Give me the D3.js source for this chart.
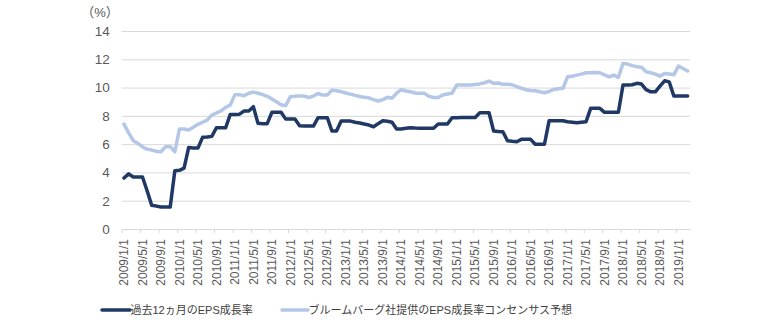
<!DOCTYPE html>
<html>
<head>
<meta charset="utf-8">
<script src="https://cdnjs.cloudflare.com/ajax/libs/d3/7.8.5/d3.min.js"></script>
<style>
  html, body { margin: 0; padding: 0; background: #ffffff; }
  svg { display: block; }
  text { font-family: "Liberation Sans", Arial, "Noto Sans CJK JP", sans-serif; }
</style>
</head>
<body>
<svg id="chart" width="780" height="323"></svg>
<script>
// ---- data ----
const startMonth = new Date(2009, 0, 1);
const categories = d3.timeMonth.range(startMonth, new Date(2019, 3, 1)); // 2009/1 .. 2019/3 (monthly)

const seriesNames = ["過去12ヵ月のEPS成長率", "ブルームバーグ社提供のEPS成長率コンセンサス予想"];

const trailingEps = [
  3.6, 3.9, 3.68, 3.68, 3.68, 2.7, 1.67, 1.62, 1.55, 1.55, 1.55, 4.12,
  4.15, 4.3, 5.77, 5.73, 5.72, 6.48, 6.5, 6.55, 7.16, 7.16, 7.16, 8.1,
  8.1, 8.12, 8.34, 8.34, 8.65, 7.47, 7.45, 7.45, 8.25, 8.25, 8.25, 7.77,
  7.77, 7.77, 7.3, 7.28, 7.28, 7.28, 7.87, 7.87, 7.87, 6.93, 6.93, 7.63,
  7.63, 7.63, 7.55, 7.5, 7.42, 7.35, 7.23, 7.45, 7.65, 7.62, 7.55, 7.07,
  7.07, 7.12, 7.16, 7.14, 7.13, 7.12, 7.12, 7.12, 7.42, 7.42, 7.42, 7.87,
  7.87, 7.88, 7.88, 7.89, 7.89, 8.22, 8.22, 8.22, 6.93, 6.9, 6.88, 6.24,
  6.2, 6.17, 6.34, 6.34, 6.34, 5.99, 5.99, 5.99, 7.65, 7.65, 7.65, 7.65,
  7.58, 7.55, 7.51, 7.55, 7.58, 8.53, 8.53, 8.53, 8.25, 8.25, 8.25, 8.25,
  10.18, 10.18, 10.2, 10.3, 10.25, 9.85, 9.7, 9.7, 10.1, 10.48, 10.4, 9.4,
  9.4, 9.4, 9.4
];

const consensusEps = [
  7.42, 6.8, 6.25, 6.05, 5.8, 5.65, 5.58, 5.5, 5.46, 5.82, 5.82, 5.46,
  7.07, 7.07, 7.0, 7.2, 7.4, 7.55, 7.7, 8.05, 8.2, 8.35, 8.6, 8.76,
  9.5, 9.5, 9.42, 9.6, 9.68, 9.6, 9.5, 9.38, 9.2, 9.0, 8.78, 8.72,
  9.35, 9.38, 9.4, 9.4, 9.3, 9.4, 9.58, 9.47, 9.47, 9.82, 9.78, 9.7,
  9.62, 9.54, 9.45, 9.37, 9.32, 9.28, 9.15, 9.05, 9.15, 9.31, 9.25, 9.6,
  9.85, 9.76, 9.7, 9.62, 9.59, 9.59, 9.38, 9.3, 9.3, 9.48, 9.55, 9.6,
  10.18, 10.18, 10.18, 10.18, 10.22, 10.26, 10.34, 10.46, 10.3, 10.32, 10.23, 10.23,
  10.2, 10.06, 9.95, 9.85, 9.8, 9.78, 9.7, 9.63, 9.72, 9.87, 9.92, 9.95,
  10.76, 10.8, 10.88, 10.95, 11.05, 11.05, 11.07, 11.05, 10.9, 10.76, 10.88, 10.72,
  11.71, 11.66, 11.55, 11.47, 11.43, 11.12, 11.05, 10.95, 10.81, 11.0, 10.96, 10.9,
  11.52, 11.35, 11.17
];

const yTicks = [0, 2, 4, 6, 8, 10, 12, 14];
const xTickLabels = [
  "2009/1/1", "2009/5/1", "2009/9/1", "2010/1/1", "2010/5/1", "2010/9/1",
  "2011/1/1", "2011/5/1", "2011/9/1", "2012/1/1", "2012/5/1", "2012/9/1",
  "2013/1/1", "2013/5/1", "2013/9/1", "2014/1/1", "2014/5/1", "2014/9/1",
  "2015/1/1", "2015/5/1", "2015/9/1", "2016/1/1", "2016/5/1", "2016/9/1",
  "2017/1/1", "2017/5/1", "2017/9/1", "2018/1/1", "2018/5/1", "2018/9/1",
  "2019/1/1"
];
const unitLabel = "（%）";

// ---- layout ----
const svg = d3.select("#chart");
const plotLeft = 121.7, plotRight = 690, plotTop = 31, plotBottom = 229;
const colors = ["#203864", "#b4c7e7"];
const fmt = d3.timeFormat("%Y/%-m/%-d");

const x = d3.scaleLinear().domain([0, categories.length]).range([plotLeft, plotRight]);
const y = d3.scaleLinear().domain([0, 14]).range([plotBottom, plotTop]);

// gridlines + y labels
const yAxis = d3.axisLeft(y).tickValues(yTicks).tickSize(-(plotRight - plotLeft)).tickPadding(12).tickFormat(d3.format("d"));
const gy = svg.append("g").attr("transform", `translate(${plotLeft},0)`).call(yAxis);
gy.select(".domain").remove();
gy.selectAll(".tick line").attr("stroke", "#d9d9d9").attr("stroke-width", 1);
gy.selectAll(".tick text").attr("fill", "#595959").style("font-size", "13.5px");

// x axis
const tickIdx = xTickLabels.map(lbl => categories.findIndex(c => fmt(c) === lbl));
const xAxis = d3.axisBottom(x).tickValues(tickIdx).tickSize(4).tickSizeOuter(0)
  .tickFormat((d, i) => xTickLabels[i]);
const gx = svg.append("g").attr("transform", `translate(0,${plotBottom})`).call(xAxis);
gx.select(".domain").attr("stroke", "#d9d9d9");
gx.selectAll(".tick line").attr("stroke", "#d9d9d9");
gx.selectAll(".tick text")
  .attr("transform", "rotate(-90)")
  .attr("text-anchor", "end")
  .attr("x", -10)
  .attr("y", 1.8)
  .attr("dy", "0.35em")
  .attr("fill", "#595959")
  .style("font-size", "12px");

// unit label
svg.append("text").attr("x", 100).attr("y", 17).attr("text-anchor", "middle")
  .attr("fill", "#595959").style("font-size", "13px").text(unitLabel);

// lines
const seriesList = [consensusEps, trailingEps];
const colorList = [colors[1], colors[0]];
const line = d3.line().x((d, i) => x(i + 0.5)).y(d => y(d));
seriesList.forEach((s, k) => {
  svg.append("path").datum(s)
    .attr("d", line)
    .attr("fill", "none")
    .attr("stroke", colorList[k])
    .attr("stroke-width", 3.5)
    .attr("stroke-linejoin", "round")
    .attr("stroke-linecap", "round");
});

// legend
const legendItems = [
  { name: seriesNames[0], color: colors[0], x0: 102, x1: 130 },
  { name: seriesNames[1], color: colors[1], x0: 282, x1: 308 }
];
const lg = svg.append("g");
legendItems.forEach(it => {
  lg.append("line").attr("x1", it.x0).attr("x2", it.x1).attr("y1", 310).attr("y2", 310)
    .attr("stroke", it.color).attr("stroke-width", 3.5).attr("stroke-linecap", "round");
  lg.append("text").attr("x", it.x1 + 0.5).attr("y", 310).attr("dy", "0.35em")
    .attr("fill", "#404040").style("font-size", "11px").text(it.name);
});
</script>
</body>
</html>
